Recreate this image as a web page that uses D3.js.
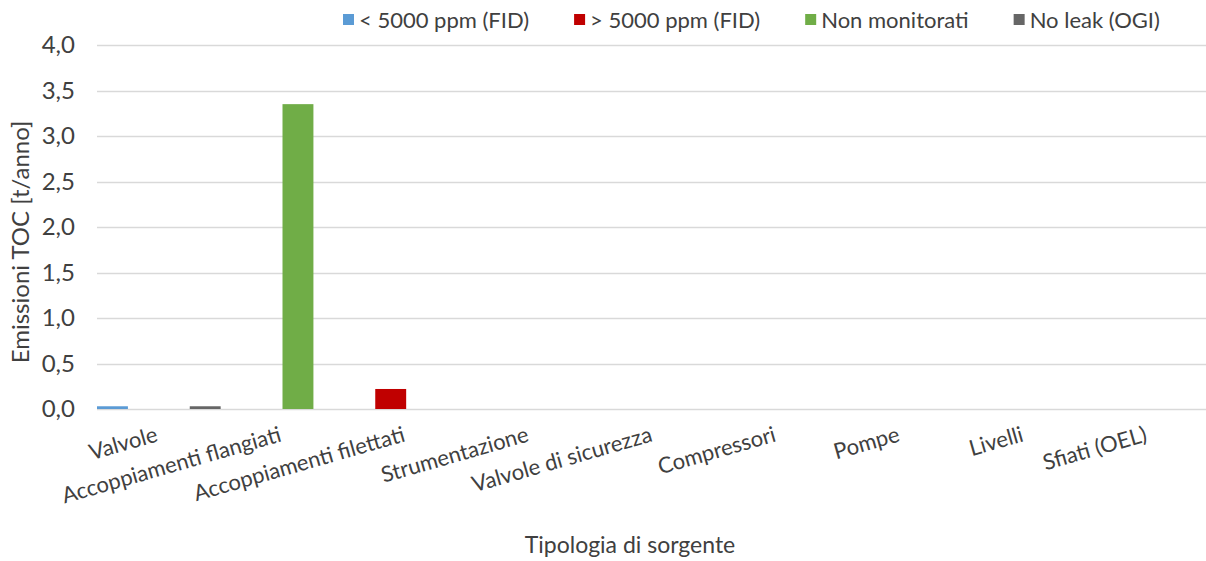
<!DOCTYPE html>
<html>
<head>
<meta charset="utf-8">
<script src="https://cdn.jsdelivr.net/npm/d3@7"></script>
<style>
  body { margin: 0; background: #fff; }
  text { font-family: Lato, 'Open Sans', sans-serif; fill: #404040; }
</style>
</head>
<body>
<div id="chart"></div>
<script>
const categories = ['Valvole', 'Accoppiamenti flangiati', 'Accoppiamenti filettati', 'Strumentazione',
  'Valvole di sicurezza', 'Compressori', 'Pompe', 'Livelli', 'Sfiati (OEL)']
const seriesNames = ['< 5000 ppm (FID)', '> 5000 ppm (FID)', 'Non monitorati', 'No leak (OGI)']
const seriesColors = ['#5B9BD5', '#C00000', '#70AD47', '#666666']
const below5000 = [0.03, 0, 0, 0, 0, 0, 0, 0, 0]
const above5000 = [0, 0, 0.22, 0, 0, 0, 0, 0, 0]
const nonMonitorati = [0, 3.35, 0, 0, 0, 0, 0, 0, 0]
const noLeak = [0.03, 0, 0, 0, 0, 0, 0, 0, 0]
const yTicks = [0, 0.5, 1, 1.5, 2, 2.5, 3, 3.5, 4]

const seriesValues = [below5000, above5000, nonMonitorati, noLeak]

const width = 1206
const height = 561
const margin = { top: 45, left: 97, bottom: 152 }
const plotRight = 1210

const svg = d3.select('#chart').append('svg')
  .attr('width', width)
  .attr('height', height)

const x = d3.scaleBand().domain(categories).range([margin.left, plotRight]).padding(0)
const xs = d3.scaleBand().domain(seriesNames).range([0, x.bandwidth()]).padding(0)
const y = d3.scaleLinear().domain([0, 4]).range([height - margin.bottom, margin.top])

// grid
svg.append('g').selectAll('line')
  .data(yTicks)
  .join('line')
  .attr('x1', margin.left).attr('x2', plotRight)
  .attr('y1', d => Math.round(y(d)) + 0.5).attr('y2', d => Math.round(y(d)) + 0.5)
  .attr('stroke', '#d9d9d9').attr('stroke-width', 1.5)

// y labels
const fmt = d => d.toFixed(1).replace('.', ',')
svg.append('g').selectAll('text')
  .data(yTicks)
  .join('text')
  .attr('x', 75).attr('y', d => y(d))
  .attr('dy', '0.35em')
  .attr('text-anchor', 'end')
  .style('font-size', '24px')
  .text(fmt)

// bars
seriesNames.forEach((name, si) => {
  svg.append('g').selectAll('rect')
    .data(categories.map((c, i) => ({ c, v: seriesValues[si][i] })).filter(d => d.v > 0))
    .join('rect')
    .attr('x', d => x(d.c) + xs(name))
    .attr('width', xs.bandwidth())
    .attr('y', d => y(d.v))
    .attr('height', d => y(0) - y(d.v))
    .attr('fill', seriesColors[si])
})

// x labels
svg.append('g').selectAll('text')
  .data(categories)
  .join('text')
  .attr('text-anchor', 'end')
  .attr('transform', d => `translate(${x(d) + x.bandwidth() / 2},441) rotate(-16)`)
  .style('font-size', '22px')
  .text(d => d)

// axis titles
svg.append('text')
  .attr('x', 630).attr('y', 553)
  .attr('text-anchor', 'middle')
  .style('font-size', '23px')
  .text('Tipologia di sorgente')

svg.append('text')
  .attr('transform', `translate(29,${(y(0) + y(4)) / 2 + 15}) rotate(-90)`)
  .attr('text-anchor', 'middle')
  .style('font-size', '24px')
  .text('Emissioni TOC [t/anno]')

// legend
const legend = svg.append('g')
let lx = 343
seriesNames.forEach((name, i) => {
  legend.append('rect')
    .attr('x', lx).attr('y', 14).attr('width', 11).attr('height', 11)
    .attr('fill', seriesColors[i])
  const t = legend.append('text')
    .attr('x', lx + 16).attr('y', 20).attr('dy', '0.35em')
    .style('font-size', '22px')
    .text(name)
  lx += 16 + t.node().getComputedTextLength() + 45
})
</script>
</body>
</html>
